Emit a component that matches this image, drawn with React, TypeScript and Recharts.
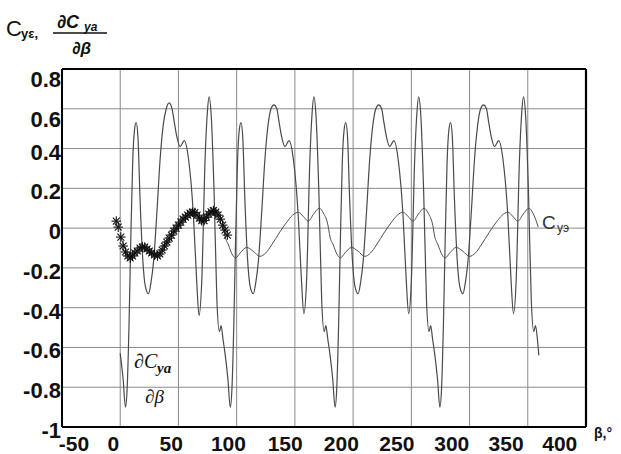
import React from 'react'
import { ComposedChart, Line, XAxis, YAxis, CartesianGrid, ReferenceLine } from 'recharts'

// dCya/dβ: [β°, value], four 90° sections
const derivQ1: [number, number][] = [
  [0, -0.63], [2.5, -0.76], [4.5, -0.9], [6, -0.8], [7.5, -0.5], [9, -0.08], [10.7, 0.33],
  [12.2, 0.49], [13.7, 0.53], [15.2, 0.46], [17, 0.15], [19.4, -0.16], [21.5, -0.29],
  [24.3, -0.33], [26.5, -0.27], [28.6, -0.17], [31.5, 0.08], [34.3, 0.35], [37, 0.52],
  [39.5, 0.6], [42, 0.63], [44.5, 0.6], [46.5, 0.53], [48.6, 0.46], [51.5, 0.41], [55, 0.44],
  [58.6, 0.35], [62.9, 0.06], [65.7, -0.27], [67.7, -0.44], [70, -0.27], [72.9, 0.35],
  [74.8, 0.58], [76.3, 0.66], [78.2, 0.56], [80.6, 0.18], [83, -0.36], [85.2, -0.52],
  [86.6, -0.49], [88.3, -0.56],
]
const derivQ2: [number, number][] = [
  [90, -0.63], [92.5, -0.76], [94.5, -0.9], [96, -0.8], [97.5, -0.5], [99, -0.08], [100.7, 0.33],
  [102.2, 0.49], [103.7, 0.53], [105.2, 0.46], [107, 0.15], [109.4, -0.16], [111.5, -0.29],
  [114.3, -0.33], [116.5, -0.27], [118.6, -0.17], [121.5, 0.08], [124.3, 0.35], [127, 0.52],
  [129.5, 0.6], [132, 0.62], [134.5, 0.6], [136.5, 0.53], [138.6, 0.46], [141.5, 0.41],
  [145, 0.44], [148.6, 0.35], [152.9, 0.06], [155.7, -0.27], [157.7, -0.43], [160, -0.27],
  [162.9, 0.35], [164.8, 0.58], [166.3, 0.66], [168.2, 0.56], [170.6, 0.18], [173, -0.36],
  [175.2, -0.52], [176.6, -0.49], [178.3, -0.56],
]
const derivQ3: [number, number][] = [
  [180, -0.63], [182.5, -0.76], [184.5, -0.9], [186, -0.8], [187.5, -0.5], [189, -0.08],
  [190.7, 0.33], [192.2, 0.49], [193.7, 0.53], [195.2, 0.46], [197, 0.15], [199.4, -0.16],
  [201.5, -0.29], [204.3, -0.33], [206.5, -0.27], [208.6, -0.17], [211.5, 0.08], [214.3, 0.35],
  [217, 0.52], [219.5, 0.6], [222, 0.62], [224.5, 0.6], [226.5, 0.53], [228.6, 0.46],
  [231.5, 0.41], [235, 0.44], [238.6, 0.35], [242.9, 0.06], [245.7, -0.27], [247.7, -0.43],
  [250, -0.27], [252.9, 0.35], [254.8, 0.58], [256.3, 0.66], [258.2, 0.56], [260.6, 0.18],
  [263, -0.36], [265.2, -0.52], [266.6, -0.49], [268.3, -0.56],
]
const derivQ4: [number, number][] = [
  [270, -0.63], [272.5, -0.76], [274.5, -0.9], [276, -0.8], [277.5, -0.5], [279, -0.08],
  [280.7, 0.33], [282.2, 0.49], [283.7, 0.53], [285.2, 0.46], [287, 0.15], [289.4, -0.16],
  [291.5, -0.29], [294.3, -0.33], [296.5, -0.27], [298.6, -0.17], [301.5, 0.08], [304.3, 0.35],
  [307, 0.52], [309.5, 0.6], [312, 0.62], [314.5, 0.6], [316.5, 0.53], [318.6, 0.46],
  [321.5, 0.41], [325, 0.44], [328.6, 0.35], [332.9, 0.06], [335.7, -0.27], [337.7, -0.43],
  [340, -0.27], [342.9, 0.35], [344.8, 0.58], [346.3, 0.66], [348.2, 0.56], [350.6, 0.18],
  [353, -0.36], [355.2, -0.52], [356.6, -0.49], [358.3, -0.56], [359.5, -0.64],
]

// Cyэ (calculated), [β°, value]
const cyCalc: [number, number][] = [
  [0, -0.04], [3, -0.085], [6, -0.13], [9, -0.15], [13, -0.125], [18.6, -0.097], [24, -0.115],
  [30, -0.142], [35, -0.125], [40, -0.085], [47, -0.02], [53, 0.03], [58, 0.065], [63, 0.08],
  [67, 0.06], [71.5, 0.035], [76, 0.07], [81, 0.1], [84.5, 0.075], [88.5, 0.012],
  [90, -0.04], [93, -0.085], [96, -0.13], [99, -0.15], [103, -0.125], [108.6, -0.097],
  [114, -0.115], [120, -0.142], [125, -0.125], [130, -0.085], [137, -0.02], [143, 0.03],
  [148, 0.065], [153, 0.08], [157, 0.06], [161.5, 0.035], [166, 0.07], [171, 0.1],
  [174.5, 0.075], [178.5, 0.012],
  [180, -0.04], [183, -0.085], [186, -0.13], [189, -0.15], [193, -0.125], [198.6, -0.097],
  [204, -0.115], [210, -0.142], [215, -0.125], [220, -0.085], [227, -0.02], [233, 0.03],
  [238, 0.065], [243, 0.08], [247, 0.06], [251.5, 0.035], [256, 0.07], [261, 0.1],
  [264.5, 0.075], [268.5, 0.012],
  [270, -0.04], [273, -0.085], [276, -0.13], [279, -0.15], [283, -0.125], [288.6, -0.097],
  [294, -0.115], [300, -0.142], [305, -0.125], [310, -0.085], [317, -0.02], [323, 0.03],
  [328, 0.065], [333, 0.08], [337, 0.06], [341.5, 0.035], [346, 0.07], [351, 0.1],
  [354.5, 0.075], [359, 0.005],
]

// experimental points (asterisks), [β°, value]
const cyExp: [number, number][] = [
  [-3.4, 0.035], [-1.7, 0.005], [0.5, -0.045], [2.5, -0.09], [4.5, -0.12], [6.5, -0.14],
  [8.6, -0.15], [10.5, -0.14], [12.5, -0.125], [14.6, -0.115], [17, -0.1], [19, -0.095],
  [21, -0.095], [23, -0.105], [25, -0.115], [27, -0.125], [29.5, -0.135], [32, -0.14],
  [34, -0.13], [36, -0.11], [38, -0.09], [40, -0.07], [42, -0.05], [44, -0.035], [46, -0.015],
  [48, 0], [50, 0.015], [52, 0.03], [54, 0.045], [56, 0.055], [58, 0.065], [60, 0.075],
  [62, 0.08], [64, 0.078], [66, 0.065], [68, 0.05], [70, 0.037], [72, 0.038], [74, 0.055],
  [76, 0.07], [78, 0.082], [80, 0.088], [82, 0.08], [84, 0.065], [86, 0.045], [88, 0.015],
  [90, -0.01], [92, -0.035],
]

const xTicks = [-50, 0, 50, 100, 150, 200, 250, 300, 350, 400]
const yTicks = [-1, -0.8, -0.6, -0.4, -0.2, 0, 0.2, 0.4, 0.6, 0.8]

const toPoints = (pairs: [number, number][]) => pairs.map(([b, v]) => ({ b, v }))

const W = 621
const H = 454
const PLOT = { left: 62, top: 69, right: 586, bottom: 427 }

const sans = '"Liberation Sans", Arial, sans-serif'

// labels in the scan drift left of their grid lines
function XTick({ x, payload }: any) {
  const v = payload.value
  const shift = v < 0 ? 12 : -7 - 0.00012 * v * v
  return (
    <text
      x={x + shift}
      y={PLOT.bottom + 24}
      textAnchor="middle"
      fontFamily={sans}
      fontSize={21}
      fontWeight={700}
      fill="#111"
    >
      {v}
    </text>
  )
}

function YTick({ y, payload }: any) {
  const v = payload.value
  return (
    <text
      x={61}
      y={y + 11 + (v >= 0.6 ? 7 : 0)}
      textAnchor="end"
      fontFamily={sans}
      fontSize={22}
      fontWeight={700}
      fill="#111"
    >
      {v}
    </text>
  )
}

function Star(props: any) {
  const { cx, cy } = props
  if (cx == null || cy == null) return <g />
  const r = 4.8
  const d = r * 0.72
  return (
    <g stroke="#111" strokeWidth={1.1}>
      <line x1={cx - r} y1={cy} x2={cx + r} y2={cy} />
      <line x1={cx} y1={cy - r} x2={cx} y2={cy + r} />
      <line x1={cx - d} y1={cy - d} x2={cx + d} y2={cy + d} />
      <line x1={cx - d} y1={cy + d} x2={cx + d} y2={cy - d} />
    </g>
  )
}

export default function App() {
  const deriv = toPoints([...derivQ1, ...derivQ2, ...derivQ3, ...derivQ4])

  return (
    <div style={{ position: 'absolute', left: 0, top: 0, width: W, height: H, background: '#fff' }}>
      <ComposedChart
        width={W}
        height={H}
        margin={{ top: PLOT.top, right: W - PLOT.right, bottom: 0, left: 12 }}
      >
        <CartesianGrid stroke="#8a8a8a" strokeWidth={1} />
        <XAxis
          type="number"
          dataKey="b"
          domain={[-50, 400]}
          ticks={xTicks}
          allowDataOverflow
          height={H - PLOT.bottom}
          tick={<XTick />}
          tickLine={false}
          axisLine={{ stroke: '#000', strokeWidth: 2 }}
        />
        <YAxis
          type="number"
          dataKey="v"
          domain={[-1, 0.8]}
          ticks={yTicks}
          allowDataOverflow
          width={PLOT.left - 12}
          tick={<YTick />}
          tickLine={false}
          axisLine={{ stroke: '#000', strokeWidth: 2 }}
        />
        {/* frame: top and right edges */}
        <ReferenceLine y={0.8} stroke="#000" strokeWidth={1.8} ifOverflow="visible" />
        <ReferenceLine x={400} stroke="#000" strokeWidth={2.2} ifOverflow="visible" />
        <Line
          data={deriv}
          dataKey="v"
          type="monotone"
          stroke="#4a4a4a"
          strokeWidth={1.2}
          dot={false}
          isAnimationActive={false}
        />
        <Line
          data={toPoints(cyCalc)}
          dataKey="v"
          type="monotone"
          stroke="#505050"
          strokeWidth={1}
          dot={false}
          isAnimationActive={false}
        />
        <Line
          data={toPoints(cyExp)}
          dataKey="v"
          stroke="none"
          dot={Star}
          isAnimationActive={false}
        />
      </ComposedChart>

      <svg width={W} height={H} style={{ position: 'absolute', left: 0, top: 0, pointerEvents: 'none' }}>
        {/* axis title, top left */}
        <g fill="#111" fontFamily={sans}>
          <text x={6} y={36} fontSize={22}>C</text>
          <text x={21} y={38} fontSize={13} fontWeight={700}>yε,</text>
          <text x={57} y={28} fontSize={18} fontWeight={700} fontStyle="italic">∂C</text>
          <text x={84} y={31} fontSize={12} fontWeight={700} fontStyle="italic">ya</text>
          <line x1={53} y1={33} x2={107} y2={33} stroke="#111" strokeWidth={1.6} />
          <text x={72} y={54} fontSize={17} fontWeight={700} fontStyle="italic">∂β</text>
        </g>
        {/* curve label Cyэ */}
        <g fill="#333" fontFamily={sans}>
          <text x={542} y={229} fontSize={19}>C</text>
          <text x={557} y={232} fontSize={12}>yэ</text>
        </g>
        {/* curve label dCya/dβ */}
        <g fill="#111" fontFamily='"Liberation Serif", "Times New Roman", serif' fontStyle="italic">
          <text x={134} y={368} fontSize={20}>∂C</text>
          <text x={157} y={373} fontSize={15} fontWeight={700}>ya</text>
          <text x={145} y={403} fontSize={19}>∂β</text>
        </g>
        {/* x axis title */}
        <text x={594} y={438} fontSize={14} fontWeight={700} fill="#111" fontFamily={sans}>
          β,°
        </text>
      </svg>
    </div>
  )
}
